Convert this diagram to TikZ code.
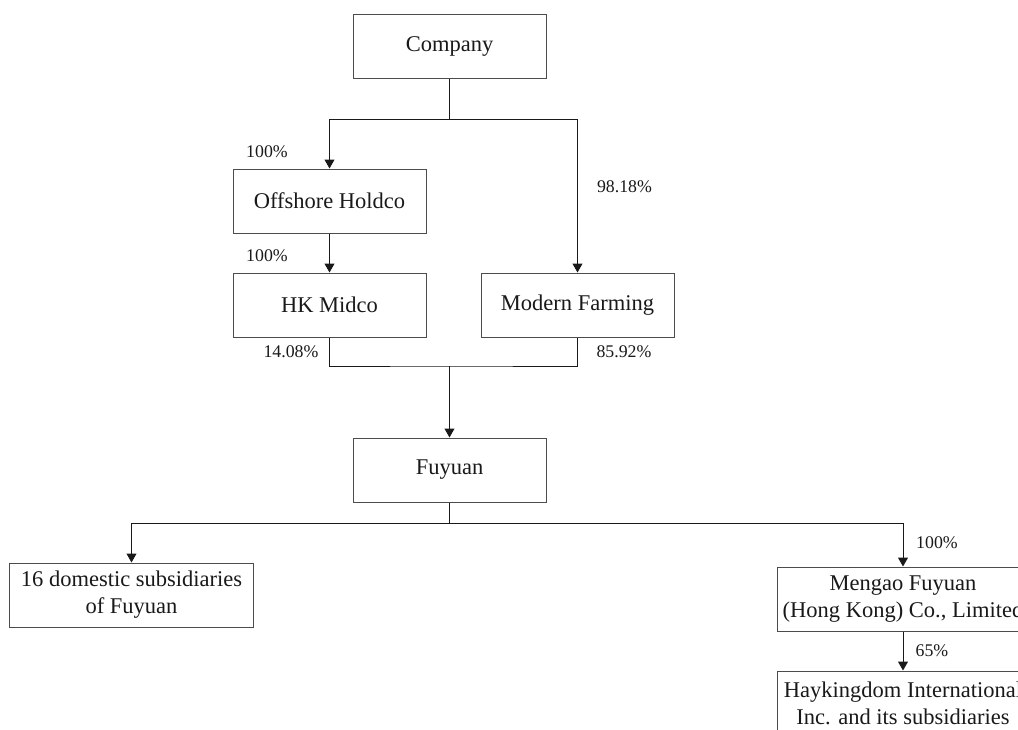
\documentclass[tikz,border=0pt]{standalone}
\usepackage{fontspec}
\setmainfont{Liberation Serif}
\usepackage{tikz}
\usetikzlibrary{arrows.meta, positioning, calc}

\begin{document}
\begin{tikzpicture}[
    x=0.5pt, y=-0.5pt,
    entity/.style={rectangle, draw=black!70, line width=0.5pt, minimum width=96.5pt, minimum height=32pt, inner sep=0pt, align=center, text=black!90, font=\fontsize{11.25}{13.5}\selectfont},
    share/.style={text=black!90, inner sep=0pt, font=\fontsize{8.9}{10}\selectfont},
    link/.style={line width=0.5pt, color=black!90},
    arrow/.style={-{Triangle[width=5pt,length=4.5pt]}, line width=0.5pt, color=black!90}
]

    \useasboundingbox (0,0) rectangle (1018,729);
    \clip (0,0) rectangle (1018,729);

    % ============================================================
    % TOP: COMPANY AND HOLDING CHAIN
    % ============================================================
    \node[entity] (company) at (449.5,46.5) {Company};
    \node[entity] (offshore) at (329.5,201) {Offshore Holdco};
    \node[entity] (hkmidco) at (329.5,305) {HK Midco};
    \node[entity] (farming) at (577.5,305) {Modern Farming};
    \node[entity] (fuyuan) at (449.5,470) {Fuyuan};

    \coordinate (top-split) at (449.5,119);
    \coordinate (mid-join) at (449.5,366);

    % Connections top
    \draw[link] (company.south) -- (top-split);
    \draw[arrow] (top-split) -| (offshore.north);
    \draw[arrow] (top-split) -| (farming.north);
    \draw[arrow] (offshore) -- (hkmidco);
    \draw[link] (hkmidco.south) |- (mid-join) -| (farming.south);
    \draw[arrow] (mid-join) -- (fuyuan.north);

    % Percentages top
    \node[share] (pct-offshore) at (267,152) {100\%};
    \node[share] (pct-hkmidco) at (267,256) {100\%};
    \node[share] (pct-farming) at (624.5,187) {98.18\%};
    \node[share] (pct-hkfuyuan) at (291,352) {14.08\%};
    \node[share] (pct-mffuyuan) at (624,352) {85.92\%};

    % ============================================================
    % BOTTOM: SUBSIDIARIES OF FUYUAN
    % ============================================================
    \node[entity, minimum width=122pt] (domestic) at (131.5,595) {16 domestic subsidiaries\\of Fuyuan};
    \node[entity, minimum width=126pt] (mengao) at (903,599) {Mengao Fuyuan\\(Hong Kong) Co., Limited};
    \node[entity, minimum width=126pt] (haykingdom) at (903,703) {Haykingdom International\\Inc. and its subsidiaries};

    \coordinate (bot-split) at (449.5,523);

    % Connections bottom
    \draw[link] (fuyuan.south) -- (bot-split);
    \draw[arrow] (bot-split) -| (domestic.north);
    \draw[arrow] (bot-split) -| (mengao.north);
    \draw[arrow] (mengao) -- (haykingdom);

    % Percentages bottom
    \node[share] (pct-mengao) at (937,543) {100\%};
    \node[share] (pct-haykingdom) at (932,651) {65\%};

\end{tikzpicture}
\end{document}
